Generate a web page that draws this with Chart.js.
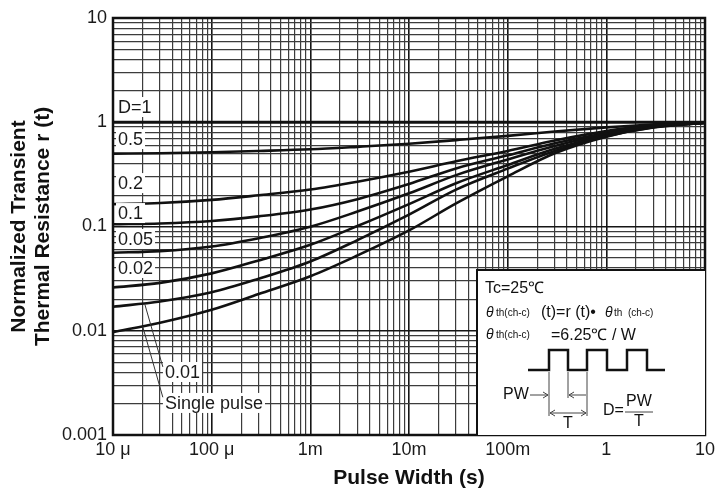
<!DOCTYPE html>
<html>
<head>
<meta charset="utf-8">
<script src="https://cdn.jsdelivr.net/npm/chart.js@4.4.0/dist/chart.umd.min.js"></script>
<style>
  html, body { margin: 0; padding: 0; background: #fff; }
  #c { display: block; }
</style>
</head>
<body>
<canvas id="c" width="725" height="491"></canvas>
<script>
// pulse width (s) and r(t)
const pulseWidths = [1e-5, 3e-5, 1e-4, 3e-4, 1e-3, 3e-3, 1e-2, 3e-2, 0.1, 0.3, 1, 3, 10];
const rD1     = [1, 1, 1, 1, 1, 1, 1, 1, 1, 1, 1, 1, 1];
const rD05    = [0.5, 0.505, 0.515, 0.53, 0.55, 0.581, 0.622, 0.674, 0.74, 0.815, 0.893, 0.953, 0.993];
const rD02    = [0.164, 0.168, 0.18, 0.1995, 0.2265, 0.269, 0.335, 0.422, 0.531, 0.668, 0.822, 0.944, 0.99];
const rD01    = [0.105, 0.107, 0.113, 0.125, 0.1455, 0.183, 0.256, 0.361, 0.482, 0.628, 0.79, 0.918, 0.986];
const rD005   = [0.056, 0.058, 0.0643, 0.0773, 0.0995, 0.139, 0.208, 0.311, 0.44, 0.593, 0.773, 0.908, 0.986];
const rD002   = [0.026, 0.0288, 0.0355, 0.0473, 0.0668, 0.101, 0.164, 0.26, 0.389, 0.556, 0.75, 0.902, 0.988];
const rD001   = [0.017, 0.0191, 0.0234, 0.0316, 0.0462, 0.0741, 0.13, 0.226, 0.359, 0.531, 0.733, 0.891, 0.988];
const rSingle = [0.0097, 0.01194, 0.0159, 0.0225, 0.0333, 0.0527, 0.0916, 0.1667, 0.303, 0.504, 0.728, 0.895, 0.988];

const curveNames = ['D=1', '0.5', '0.2', '0.1', '0.05', '0.02', '0.01', 'Single pulse'];
const curves = [rD1, rD05, rD02, rD01, rD005, rD002, rD001, rSingle];

const xTickLabels = ['10 \u03bc', '100 \u03bc', '1m', '10m', '100m', '1', '10'];
const yTickLabels = ['0.001', '0.01', '0.1', '1', '10'];

// where the curve names sit (pulse width, r)
const nameSpots = [
  [1.124e-5, 1.40], [1.124e-5, 0.69], [1.124e-5, 0.261], [1.124e-5, 0.1346],
  [1.124e-5, 0.0759], [1.124e-5, 0.040], [3.36e-5, 0.00402], [3.36e-5, 0.00203]
];

const FONT = '"Liberation Sans", Arial, Helvetica, sans-serif';

function decadeTicks(lo, hi) {
  const out = [];
  for (let e = lo; e < hi; e++) {
    for (let m = 1; m <= 9; m++) out.push({ value: m * Math.pow(10, e), major: m === 1 });
  }
  out.push({ value: Math.pow(10, hi), major: true });
  return out;
}

function decadeLabel(v, labels, firstExp) {
  const e = Math.log10(v);
  const k = Math.round(e);
  return Math.abs(e - k) < 1e-6 ? labels[k - firstExp] : '';
}

const gridOpts = {
  color: c => (c.tick && c.tick.major) ? '#151515' : '#3c3c3c',
  lineWidth: c => (c.tick && c.tick.major) ? 1.6 : 1.2,
  drawTicks: false
};

const overlay = {
  id: 'overlay',
  beforeDatasetsDraw(chart) {
    const { ctx, chartArea: a } = chart;
    ctx.save();
    ctx.strokeStyle = '#111';
    ctx.lineWidth = 2.5;
    ctx.strokeRect(a.left, a.top, a.right - a.left, a.bottom - a.top);
    ctx.restore();
  },
  afterDatasetsDraw(chart) {
    const { ctx, chartArea: a, scales: { x, y } } = chart;
    ctx.save();
    ctx.textBaseline = 'middle';
    ctx.textAlign = 'left';
    ctx.font = '18px ' + FONT;

    // curve names on white patches
    curveNames.forEach((name, i) => {
      const px = x.getPixelForValue(nameSpots[i][0]);
      const py = y.getPixelForValue(nameSpots[i][1]);
      const w = ctx.measureText(name).width;
      ctx.fillStyle = '#fff';
      ctx.fillRect(px - 2, py - 10, w + 4, 20);
      ctx.fillStyle = '#1a1a1a';
      ctx.fillText(name, px, py + 1);
    });

    // leader lines to 0.01 and single pulse
    ctx.strokeStyle = '#333';
    ctx.lineWidth = 1;
    ctx.beginPath();
    ctx.moveTo(x.getPixelForValue(2.1e-5), y.getPixelForValue(0.018));
    ctx.lineTo(x.getPixelForValue(3.2e-5), y.getPixelForValue(0.0045));
    ctx.moveTo(x.getPixelForValue(2.0e-5), y.getPixelForValue(0.011));
    ctx.lineTo(x.getPixelForValue(3.2e-5), y.getPixelForValue(0.0023));
    ctx.stroke();

    // inset box
    const bx = a.right - 228, by = a.bottom - 165;
    ctx.fillStyle = '#fff';
    ctx.fillRect(bx, by, a.right - bx, a.bottom - by);
    ctx.strokeStyle = '#111';
    ctx.lineWidth = 2;
    ctx.beginPath();
    ctx.moveTo(bx, a.bottom);
    ctx.lineTo(bx, by);
    ctx.lineTo(a.right, by);
    ctx.stroke();

    ctx.fillStyle = '#111';
    ctx.textBaseline = 'alphabetic';
    ctx.font = '16px ' + FONT;
    ctx.fillText('Tc=25\u2103', bx + 8, by + 23);

    // theta lines
    const theta = (tx, ty) => {
      ctx.font = 'italic 14px ' + FONT;
      ctx.fillText('\u03b8', tx, ty);
      ctx.font = '10px ' + FONT;
      ctx.fillText('th(ch-c)', tx + 10, ty - 1);
    };
    theta(bx + 9, by + 47);
    ctx.font = '16px ' + FONT;
    ctx.fillText('(t)=r (t)\u2022', bx + 64, by + 47);
    ctx.font = 'italic 14px ' + FONT;
    ctx.fillText('\u03b8', bx + 128, by + 47);
    ctx.font = '10px ' + FONT;
    ctx.fillText('th  (ch-c)', bx + 137, by + 46);

    theta(bx + 9, by + 69);
    ctx.font = '16px ' + FONT;
    ctx.fillText('=6.25\u2103 / W', bx + 74, by + 70);

    // pulse train
    ctx.strokeStyle = '#111';
    ctx.lineWidth = 2.5;
    ctx.beginPath();
    const lo = by + 100, hi = by + 80;
    ctx.moveTo(bx + 51, lo);
    [[72, 91], [110, 130], [150, 170]].forEach(([r, f]) => {
      ctx.lineTo(bx + r, lo); ctx.lineTo(bx + r, hi);
      ctx.lineTo(bx + f, hi); ctx.lineTo(bx + f, lo);
    });
    ctx.lineTo(bx + 188, lo);
    ctx.stroke();

    // dimension lines
    ctx.lineWidth = 1;
    ctx.strokeStyle = '#444';
    ctx.beginPath();
    ctx.moveTo(bx + 72, lo + 2); ctx.lineTo(bx + 72, lo + 46);
    ctx.moveTo(bx + 91, lo + 2); ctx.lineTo(bx + 91, lo + 28);
    ctx.moveTo(bx + 110, lo + 2); ctx.lineTo(bx + 110, lo + 46);
    // PW ->
    ctx.moveTo(bx + 53, by + 125); ctx.lineTo(bx + 71, by + 125);
    ctx.moveTo(bx + 66, by + 122); ctx.lineTo(bx + 71, by + 125); ctx.lineTo(bx + 66, by + 128);
    // <- from T end
    ctx.moveTo(bx + 109, by + 125); ctx.lineTo(bx + 92, by + 125);
    ctx.moveTo(bx + 97, by + 122); ctx.lineTo(bx + 92, by + 125); ctx.lineTo(bx + 97, by + 128);
    // T double arrow
    ctx.moveTo(bx + 73, by + 143); ctx.lineTo(bx + 109, by + 143);
    ctx.moveTo(bx + 78, by + 140); ctx.lineTo(bx + 73, by + 143); ctx.lineTo(bx + 78, by + 146);
    ctx.moveTo(bx + 104, by + 140); ctx.lineTo(bx + 109, by + 143); ctx.lineTo(bx + 104, by + 146);
    // fraction bar
    ctx.moveTo(bx + 148, by + 142); ctx.lineTo(bx + 176, by + 142);
    ctx.stroke();

    ctx.fillStyle = '#111';
    ctx.font = '16px ' + FONT;
    ctx.textBaseline = 'middle';
    ctx.textAlign = 'left';
    ctx.fillText('PW', bx + 26, by + 125);
    ctx.fillText('D=', bx + 126, by + 141);
    ctx.textAlign = 'center';
    ctx.fillText('T', bx + 91, by + 154);
    ctx.fillText('PW', bx + 162, by + 132);
    ctx.fillText('T', bx + 162, by + 152);
    ctx.restore();
  }
};

new Chart(document.getElementById('c').getContext('2d'), {
  type: 'line',
  data: {
    datasets: curves.map((vals, i) => ({
      label: curveNames[i],
      data: pulseWidths.map((t, j) => ({ x: t, y: vals[j] })),
      borderColor: '#111',
      borderWidth: i === 0 ? 3 : 2.6,
      pointRadius: 0,
      fill: false,
      cubicInterpolationMode: 'monotone'
    }))
  },
  options: {
    responsive: false,
    animation: false,
    layout: { padding: { top: 18, right: 20, left: 0, bottom: 0 } },
    plugins: { legend: { display: false }, tooltip: { enabled: false } },
    scales: {
      x: {
        type: 'logarithmic',
        min: 1e-5,
        max: 10,
        afterBuildTicks: s => { s.ticks = decadeTicks(-5, 1); },
        afterFit: s => { s.height = 56; },
        grid: gridOpts,
        border: { display: false },
        ticks: {
          autoSkip: false,
          maxRotation: 0,
          padding: 4,
          color: '#1a1a1a',
          font: { family: FONT, size: 18 },
          callback: v => decadeLabel(v, xTickLabels, -5)
        },
        title: {
          display: true,
          text: 'Pulse Width (s)',
          color: '#111',
          font: { family: FONT, size: 21, weight: 'bold', lineHeight: 1.15 },
          padding: { top: 0, bottom: 1 }
        }
      },
      y: {
        type: 'logarithmic',
        min: 0.001,
        max: 10,
        afterBuildTicks: s => { s.ticks = decadeTicks(-3, 1); },
        afterFit: s => { s.width = 113; },
        grid: gridOpts,
        border: { display: false },
        ticks: {
          autoSkip: false,
          padding: 6,
          color: '#1a1a1a',
          font: { family: FONT, size: 18 },
          callback: v => decadeLabel(v, yTickLabels, -3)
        },
        title: {
          display: true,
          text: ['Normalized Transient', 'Thermal Resistance r (t)'],
          color: '#111',
          font: { family: FONT, size: 21, weight: 'bold', lineHeight: 1.15 },
          padding: { top: 7, bottom: 0 }
        }
      }
    }
  },
  plugins: [overlay]
});
</script>
</body>
</html>
